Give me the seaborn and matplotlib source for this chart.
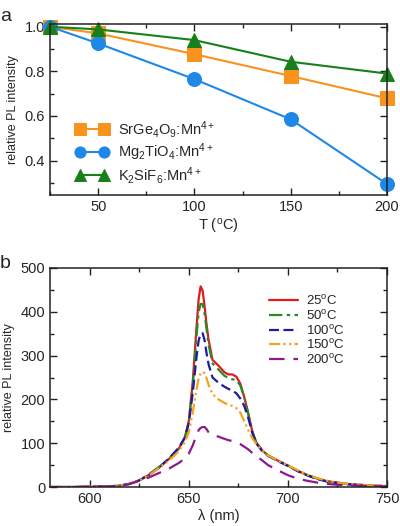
import numpy as np
import pandas as pd
import matplotlib
matplotlib.use("Agg")
import matplotlib.pyplot as plt
import seaborn as sns
from matplotlib.ticker import MultipleLocator

# --- panel a: thermal quenching ---
temps = [25, 50, 100, 150, 200]
srge = [1.0, 0.97, 0.877, 0.779, 0.679]
mgti = [1.0, 0.925, 0.765, 0.585, 0.295]
ksif = [1.0, 0.988, 0.94, 0.843, 0.79]
names_a = ["SrGe$_4$O$_9$:Mn$^{4+}$", "Mg$_2$TiO$_4$:Mn$^{4+}$", "K$_2$SiF$_6$:Mn$^{4+}$"]

# --- panel b: emission spectra ---
wl = [580, 590, 600, 610, 615, 620, 625, 630, 635, 640, 645, 648, 650, 652, 654, 655,
      656, 657, 658, 659, 660, 662, 665, 668, 670, 672, 674, 676, 678, 680, 682, 684,
      687, 690, 695, 700, 705, 710, 715, 720, 725, 730, 740, 750]
i25 = [0, 0, 0.5, 1.5, 3, 7, 15, 28, 44, 64, 88, 112, 150, 240, 370, 430,
       458, 448, 412, 370, 336, 290, 277, 262, 257, 257, 252, 236, 205, 168, 128, 102,
       84, 72, 60, 49, 37, 27, 19, 13, 10, 7, 4, 2]
i50 = [0, 0, 0.5, 1.5, 3, 7, 15, 29, 46, 64, 88, 112, 148, 230, 350, 400,
       418, 418, 395, 360, 325, 282, 268, 254, 249, 246, 244, 232, 205, 168, 128, 102,
       84, 72, 60, 49, 37, 27, 19, 13, 10, 7, 4, 2]
i100 = [0, 0, 0.5, 1.5, 3, 7, 15, 28, 45, 65, 90, 113, 145, 215, 300, 335,
        350, 351, 335, 305, 280, 250, 238, 229, 224, 220, 214, 202, 185, 158, 124, 100,
        82, 71, 59, 48, 36, 26, 18, 12, 9, 6, 3, 1.5]
i150 = [0, 0, 0.5, 1.5, 3, 7, 14, 27, 44, 60, 82, 102, 125, 170, 225, 248,
        260, 263, 260, 248, 233, 212, 200, 192, 188, 185, 180, 170, 150, 130, 112, 98,
        83, 72, 60, 49, 38, 28, 20, 14, 10, 7, 4, 2]
i200 = [0, 0, 0.5, 1.5, 3, 7, 14, 22, 32, 42, 55, 65, 76, 95, 120, 130,
        135, 137, 137, 132, 125, 119, 115, 110, 107, 105, 102, 98, 92, 86, 78, 71,
        61, 50, 38, 27, 19, 14, 10, 7, 5, 4, 2, 1]
labels_b = ["25$^{\\rm o}$C", "50$^{\\rm o}$C", "100$^{\\rm o}$C", "150$^{\\rm o}$C", "200$^{\\rm o}$C"]

sns.set_style("ticks")
plt.rcParams["font.family"] = ["Liberation Sans", "DejaVu Sans"]
plt.rcParams["mathtext.fontset"] = "custom"
plt.rcParams["mathtext.rm"] = "Liberation Sans"
plt.rcParams["mathtext.it"] = "Liberation Sans"

fig = plt.figure(figsize=(4.0, 5.26), dpi=100)
ax1 = fig.add_axes([0.125, 0.6293, 0.8425, 0.325])
ax2 = fig.add_axes([0.125, 0.0741, 0.8425, 0.4164])

cols_a = ["#f7931e", "#1e88e8", "#17801a"]
marks_a = ["s", "o", "^"]
for ys, name, c, m in zip([srge, mgti, ksif], names_a, cols_a, marks_a):
    sns.lineplot(x=temps, y=ys, ax=ax1, color=c, marker=m, markersize=10,
                 markeredgecolor=c, linewidth=1.5, label=name, clip_on=False)

ax1.set_xlim(25, 200)
ax1.set_ylim(0.246, 1.012)
ax1.xaxis.set_minor_locator(MultipleLocator(25))
ax1.yaxis.set_minor_locator(MultipleLocator(0.1))
ax1.set_xticks([50, 100, 150, 200])
ax1.set_yticks([0.4, 0.6, 0.8, 1.0])
ax1.set_xlabel("T ($^{\\rm o}$C)", fontsize=10.5, labelpad=2)
ax1.set_ylabel("relative PL intensity", fontsize=9, labelpad=4)
ax1.legend(loc="center left", bbox_to_anchor=(0.06, 0.25), frameon=False,
           fontsize=10.5, numpoints=2, handlelength=2.2, handletextpad=0.7,
           labelspacing=0.12, borderaxespad=0, markerscale=0.8)

cols_b = ["#e01b1b", "#2a8a2a", "#1c1c9c", "#f5a21f", "#8c1a8c"]
dashes_b = ["-", (0, (6, 2, 1.5, 2)), (0, (4.5, 2)), (0, (5, 1.5, 1, 1.5, 1, 1.5)), (0, (7, 4))]
for ys, lab, c, d in zip([i25, i50, i100, i150, i200], labels_b, cols_b, dashes_b):
    sns.lineplot(x=wl, y=ys, ax=ax2, color=c, linestyle=d, linewidth=1.6, label=lab)

ax2.set_xlim(580, 750)
ax2.set_ylim(0, 500)
ax2.xaxis.set_minor_locator(MultipleLocator(25))
ax2.yaxis.set_minor_locator(MultipleLocator(50))
ax2.set_xticks([600, 650, 700, 750])
ax2.set_yticks([0, 100, 200, 300, 400, 500])
ax2.set_xlabel("\u03bb (nm)", fontsize=10.5, labelpad=2)
ax2.set_ylabel("relative PL intensity", fontsize=9, labelpad=4)
ax2.legend(loc="upper left", bbox_to_anchor=(0.635, 0.905), frameon=False,
           fontsize=9.5, handlelength=2.2, handletextpad=0.55, labelspacing=0.05,
           borderaxespad=0)

for ax in (ax1, ax2):
    ax.tick_params(which="both", direction="in", top=True, right=True,
                   labelsize=10.5, color="#222222")
    ax.tick_params(which="major", length=5, width=1)
    ax.tick_params(which="minor", length=3, width=1)
    for s in ax.spines.values():
        s.set_linewidth(1.1)
        s.set_color("#222222")

fig.text(0.0, 0.985, "a", fontsize=14, va="top", ha="left")
fig.text(0.0, 0.515, "b", fontsize=14, va="top", ha="left")

fig.savefig("out.png", dpi=100)
